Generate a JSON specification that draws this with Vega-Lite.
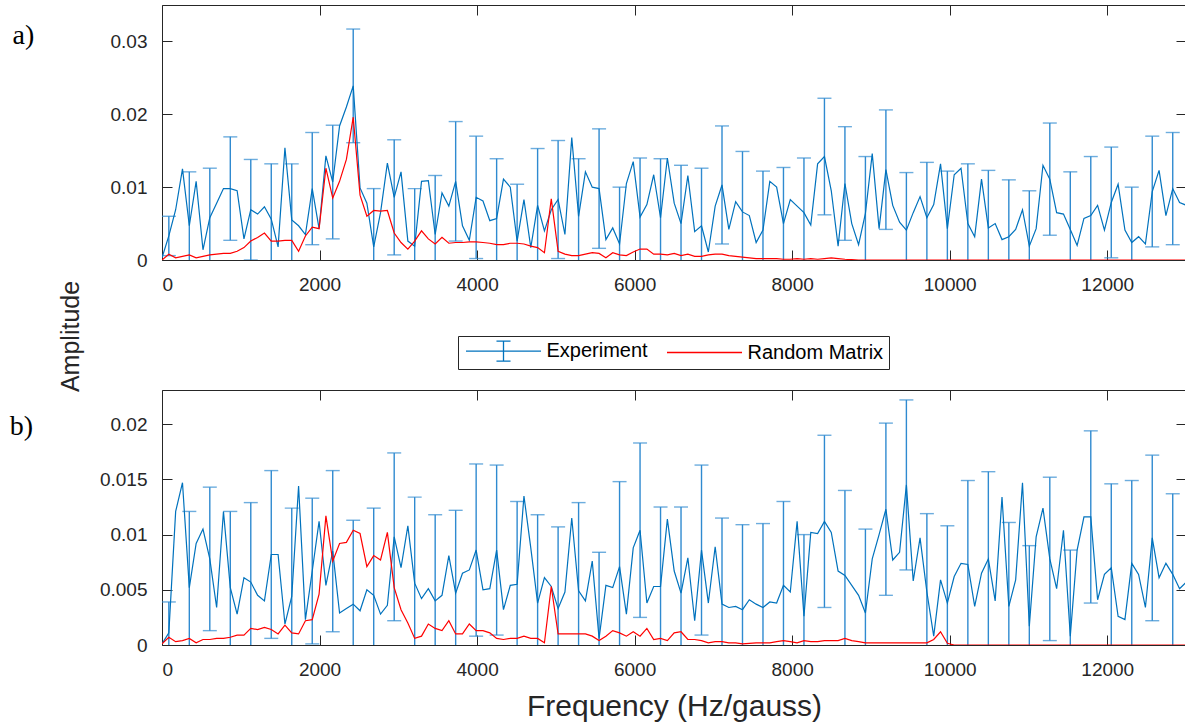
{
"$schema": "https://vega.github.io/schema/vega-lite/v6.json",
"padding": {"left": 9, "top": 4, "right": 0, "bottom": 0},
"background": "white",
"spacing": 130,
"bounds": "flush",
"resolve": {"scale": {"color": "shared"}},
"config": {
  "font": "Liberation Sans",
  "view": {"stroke": "#262626", "strokeWidth": 1},
  "axis": {"domain": false, "grid": false, "ticks": true, "tickColor": "#262626", "tickWidth": 1, "tickSize": -10, "labelFont": "Liberation Sans", "labelFontSize": 19, "labelColor": "#262626", "titleFont": "Liberation Sans", "titleFontWeight": "normal", "titleColor": "#262626"},
  "axisX": {"labelPadding": 25},
  "axisY": {"labelPadding": 25},
  "legend": {"labelFont": "Liberation Sans", "labelFontSize": 20, "labelColor": "black"}
},
"datasets": {
"a": [
{"f":0,"Experiment":0.0003,"Random Matrix":0},
{"f":86.7,"Experiment":0.0033,"Random Matrix":0.0008,"err":0.0027},
{"f":173.4,"Experiment":0.0069,"Random Matrix":0.0003},
{"f":260.1,"Experiment":0.0125,"Random Matrix":0.0005},
{"f":346.8,"Experiment":0.0047,"Random Matrix":0.0007,"err":0.0074},
{"f":433.5,"Experiment":0.0108,"Random Matrix":0.0003},
{"f":520.2,"Experiment":0.0014,"Random Matrix":0.0005},
{"f":606.9,"Experiment":0.0058,"Random Matrix":0.0007,"err":0.0068},
{"f":693.6,"Experiment":0.0078,"Random Matrix":0.0008},
{"f":780.3,"Experiment":0.0098,"Random Matrix":0.0009},
{"f":867,"Experiment":0.0098,"Random Matrix":0.0009,"err":0.0071},
{"f":953.7,"Experiment":0.0095,"Random Matrix":0.0012},
{"f":1040.4,"Experiment":0.0029,"Random Matrix":0.0017},
{"f":1127.1,"Experiment":0.0069,"Random Matrix":0.0026,"err":0.0069},
{"f":1213.8,"Experiment":0.0063,"Random Matrix":0.0031},
{"f":1300.5,"Experiment":0.0073,"Random Matrix":0.0037},
{"f":1387.2,"Experiment":0.0056,"Random Matrix":0.0026,"err":0.0076},
{"f":1473.9,"Experiment":0.0018,"Random Matrix":0.0026},
{"f":1560.6,"Experiment":0.0154,"Random Matrix":0.0027},
{"f":1647.3,"Experiment":0.0055,"Random Matrix":0.0027,"err":0.0077},
{"f":1734,"Experiment":0.0047,"Random Matrix":0.0012},
{"f":1820.7,"Experiment":0.0035,"Random Matrix":0.0033},
{"f":1907.4,"Experiment":0.0098,"Random Matrix":0.0045,"err":0.0077},
{"f":1994.1,"Experiment":0.0043,"Random Matrix":0.0043},
{"f":2080.8,"Experiment":0.0143,"Random Matrix":0.0126},
{"f":2167.5,"Experiment":0.0107,"Random Matrix":0.0085,"err":0.0078},
{"f":2254.2,"Experiment":0.0184,"Random Matrix":0.0108},
{"f":2340.9,"Experiment":0.021,"Random Matrix":0.0138},
{"f":2427.6,"Experiment":0.0239,"Random Matrix":0.0196,"err":0.0078},
{"f":2514.3,"Experiment":0.0099,"Random Matrix":0.0089},
{"f":2601,"Experiment":0.0078,"Random Matrix":0.006},
{"f":2687.7,"Experiment":0.0018,"Random Matrix":0.0068,"err":0.008},
{"f":2774.4,"Experiment":0.0065,"Random Matrix":0.0067},
{"f":2861.1,"Experiment":0.0133,"Random Matrix":0.0068},
{"f":2947.8,"Experiment":0.0086,"Random Matrix":0.0037,"err":0.0079},
{"f":3034.5,"Experiment":0.0121,"Random Matrix":0.0024},
{"f":3121.2,"Experiment":0.0026,"Random Matrix":0.0015},
{"f":3207.9,"Experiment":0.0019,"Random Matrix":0.0026,"err":0.0079},
{"f":3294.6,"Experiment":0.0108,"Random Matrix":0.004},
{"f":3381.3,"Experiment":0.0109,"Random Matrix":0.0029},
{"f":3468,"Experiment":0.0035,"Random Matrix":0.0022,"err":0.0081},
{"f":3554.7,"Experiment":0.0092,"Random Matrix":0.0031},
{"f":3641.4,"Experiment":0.0074,"Random Matrix":0.0023},
{"f":3728.1,"Experiment":0.0108,"Random Matrix":0.0024,"err":0.0082},
{"f":3814.8,"Experiment":0.0047,"Random Matrix":0.0024},
{"f":3901.5,"Experiment":0.0027,"Random Matrix":0.0025},
{"f":3988.2,"Experiment":0.0086,"Random Matrix":0.0025,"err":0.0084},
{"f":4074.9,"Experiment":0.0081,"Random Matrix":0.0024},
{"f":4161.6,"Experiment":0.0054,"Random Matrix":0.0023},
{"f":4248.3,"Experiment":0.0057,"Random Matrix":0.0021,"err":0.0082},
{"f":4335,"Experiment":0.0111,"Random Matrix":0.0021},
{"f":4421.7,"Experiment":0.01,"Random Matrix":0.0023},
{"f":4508.4,"Experiment":0.0026,"Random Matrix":0.0023,"err":0.0078},
{"f":4595.1,"Experiment":0.0083,"Random Matrix":0.0022},
{"f":4681.8,"Experiment":0.0017,"Random Matrix":0.0019},
{"f":4768.5,"Experiment":0.0075,"Random Matrix":0.0017,"err":0.0078},
{"f":4855.2,"Experiment":0.004,"Random Matrix":0.001},
{"f":4941.9,"Experiment":0.0069,"Random Matrix":0.0084},
{"f":5028.6,"Experiment":0.0083,"Random Matrix":0.0012,"err":0.0081},
{"f":5115.3,"Experiment":0.0035,"Random Matrix":0.0008},
{"f":5202,"Experiment":0.0168,"Random Matrix":0.0006},
{"f":5288.7,"Experiment":0.006,"Random Matrix":0.0006,"err":0.0079},
{"f":5375.4,"Experiment":0.0121,"Random Matrix":0.0008},
{"f":5462.1,"Experiment":0.01,"Random Matrix":0.001},
{"f":5548.8,"Experiment":0.0098,"Random Matrix":0.0009,"err":0.0082},
{"f":5635.5,"Experiment":0.0028,"Random Matrix":0.0003},
{"f":5722.2,"Experiment":0.0044,"Random Matrix":0.001},
{"f":5808.9,"Experiment":0.0022,"Random Matrix":0.0007,"err":0.0078},
{"f":5895.6,"Experiment":0.0105,"Random Matrix":0.0006},
{"f":5982.3,"Experiment":0.0135,"Random Matrix":0.0011},
{"f":6069,"Experiment":0.0059,"Random Matrix":0.0015,"err":0.0081},
{"f":6155.7,"Experiment":0.0076,"Random Matrix":0.0015},
{"f":6242.4,"Experiment":0.0117,"Random Matrix":0.0008},
{"f":6329.1,"Experiment":0.0058,"Random Matrix":0.0008,"err":0.0081},
{"f":6415.8,"Experiment":0.014,"Random Matrix":0.0007},
{"f":6502.5,"Experiment":0.0078,"Random Matrix":0.0009},
{"f":6589.2,"Experiment":0.005,"Random Matrix":0.0006,"err":0.008},
{"f":6675.9,"Experiment":0.0116,"Random Matrix":0.0008},
{"f":6762.6,"Experiment":0.0039,"Random Matrix":0.0005},
{"f":6849.3,"Experiment":0.0047,"Random Matrix":0.0005,"err":0.0079},
{"f":6936,"Experiment":0.0011,"Random Matrix":0.0007},
{"f":7022.7,"Experiment":0.0074,"Random Matrix":0.0008},
{"f":7109.4,"Experiment":0.0103,"Random Matrix":0.0008,"err":0.0081},
{"f":7196.1,"Experiment":0.0042,"Random Matrix":0.0006},
{"f":7282.8,"Experiment":0.008,"Random Matrix":0.0005},
{"f":7369.5,"Experiment":0.0066,"Random Matrix":0.0004,"err":0.0083},
{"f":7456.2,"Experiment":0.0061,"Random Matrix":0.0003},
{"f":7542.9,"Experiment":0.0024,"Random Matrix":0.0002},
{"f":7629.6,"Experiment":0.0041,"Random Matrix":0.0002,"err":0.0081},
{"f":7716.3,"Experiment":0.0108,"Random Matrix":0.0002},
{"f":7803,"Experiment":0.01,"Random Matrix":0.0002},
{"f":7889.7,"Experiment":0.005,"Random Matrix":0.0001,"err":0.0077},
{"f":7976.4,"Experiment":0.0083,"Random Matrix":0.0001},
{"f":8063.1,"Experiment":0.0074,"Random Matrix":0.0002},
{"f":8149.8,"Experiment":0.0065,"Random Matrix":0.0001,"err":0.0075},
{"f":8236.5,"Experiment":0.0048,"Random Matrix":0.0002},
{"f":8323.2,"Experiment":0.0132,"Random Matrix":0.0001},
{"f":8409.9,"Experiment":0.0142,"Random Matrix":0.0002,"err":0.008},
{"f":8496.6,"Experiment":0.0095,"Random Matrix":0.0003},
{"f":8583.3,"Experiment":0.0019,"Random Matrix":0.0002},
{"f":8670,"Experiment":0.0105,"Random Matrix":0.0001,"err":0.0078},
{"f":8756.7,"Experiment":0.005,"Random Matrix":0.00005},
{"f":8843.4,"Experiment":0.0021,"Random Matrix":0},
{"f":8930.1,"Experiment":0.0064,"Random Matrix":0,"err":0.0078},
{"f":9016.8,"Experiment":0.0146,"Random Matrix":0},
{"f":9103.5,"Experiment":0.0043,"Random Matrix":0},
{"f":9190.2,"Experiment":0.0124,"Random Matrix":0,"err":0.0082},
{"f":9276.9,"Experiment":0.0075,"Random Matrix":0},
{"f":9363.6,"Experiment":0.0052,"Random Matrix":0},
{"f":9450.3,"Experiment":0.0041,"Random Matrix":0,"err":0.0079},
{"f":9537,"Experiment":0.0065,"Random Matrix":0},
{"f":9623.7,"Experiment":0.0087,"Random Matrix":0},
{"f":9710.4,"Experiment":0.0058,"Random Matrix":0,"err":0.0076},
{"f":9797.1,"Experiment":0.0076,"Random Matrix":0},
{"f":9883.8,"Experiment":0.0132,"Random Matrix":0},
{"f":9970.5,"Experiment":0.0043,"Random Matrix":0,"err":0.0079},
{"f":10057.2,"Experiment":0.0117,"Random Matrix":0},
{"f":10143.9,"Experiment":0.0126,"Random Matrix":0},
{"f":10230.6,"Experiment":0.005,"Random Matrix":0,"err":0.0082},
{"f":10317.3,"Experiment":0.0032,"Random Matrix":0},
{"f":10404,"Experiment":0.0111,"Random Matrix":0},
{"f":10490.7,"Experiment":0.0044,"Random Matrix":0,"err":0.0079},
{"f":10577.4,"Experiment":0.005,"Random Matrix":0},
{"f":10664.1,"Experiment":0.0028,"Random Matrix":0},
{"f":10750.8,"Experiment":0.0032,"Random Matrix":0,"err":0.0078},
{"f":10837.5,"Experiment":0.0042,"Random Matrix":0},
{"f":10924.2,"Experiment":0.0069,"Random Matrix":0},
{"f":11010.9,"Experiment":0.0019,"Random Matrix":0,"err":0.0076},
{"f":11097.6,"Experiment":0.0043,"Random Matrix":0},
{"f":11184.3,"Experiment":0.013,"Random Matrix":0},
{"f":11271,"Experiment":0.0111,"Random Matrix":0,"err":0.0077},
{"f":11357.7,"Experiment":0.0065,"Random Matrix":0},
{"f":11444.4,"Experiment":0.0063,"Random Matrix":0},
{"f":11531.1,"Experiment":0.0042,"Random Matrix":0,"err":0.0079},
{"f":11617.8,"Experiment":0.002,"Random Matrix":0},
{"f":11704.5,"Experiment":0.0057,"Random Matrix":0},
{"f":11791.2,"Experiment":0.0061,"Random Matrix":0,"err":0.0081},
{"f":11877.9,"Experiment":0.0075,"Random Matrix":0},
{"f":11964.6,"Experiment":0.0041,"Random Matrix":0},
{"f":12051.3,"Experiment":0.0079,"Random Matrix":0,"err":0.0076},
{"f":12138,"Experiment":0.0104,"Random Matrix":0},
{"f":12224.7,"Experiment":0.0041,"Random Matrix":0},
{"f":12311.4,"Experiment":0.0024,"Random Matrix":0,"err":0.0076},
{"f":12398.1,"Experiment":0.0032,"Random Matrix":0},
{"f":12484.8,"Experiment":0.0022,"Random Matrix":0},
{"f":12571.5,"Experiment":0.0094,"Random Matrix":0,"err":0.0076},
{"f":12658.2,"Experiment":0.0123,"Random Matrix":0},
{"f":12744.9,"Experiment":0.0061,"Random Matrix":0},
{"f":12831.6,"Experiment":0.0098,"Random Matrix":0,"err":0.0077},
{"f":12918.3,"Experiment":0.0079,"Random Matrix":0},
{"f":13005,"Experiment":0.0075,"Random Matrix":0}
],
"b": [
{"f":0,"Experiment":0.0001,"Random Matrix":0.0001},
{"f":86.7,"Experiment":0.0011,"Random Matrix":0.0007,"err":0.0028},
{"f":173.4,"Experiment":0.0121,"Random Matrix":0.0003},
{"f":260.1,"Experiment":0.0147,"Random Matrix":0.0004},
{"f":346.8,"Experiment":0.0052,"Random Matrix":0.0006,"err":0.0069},
{"f":433.5,"Experiment":0.0092,"Random Matrix":0.0002},
{"f":520.2,"Experiment":0.0105,"Random Matrix":0.0005},
{"f":606.9,"Experiment":0.0078,"Random Matrix":0.0005,"err":0.0065},
{"f":693.6,"Experiment":0.0034,"Random Matrix":0.0006},
{"f":780.3,"Experiment":0.0121,"Random Matrix":0.0006},
{"f":867,"Experiment":0.0052,"Random Matrix":0.0007,"err":0.0069},
{"f":953.7,"Experiment":0.0028,"Random Matrix":0.0009},
{"f":1040.4,"Experiment":0.0061,"Random Matrix":0.0009},
{"f":1127.1,"Experiment":0.0057,"Random Matrix":0.0015,"err":0.0072},
{"f":1213.8,"Experiment":0.0045,"Random Matrix":0.0014},
{"f":1300.5,"Experiment":0.004,"Random Matrix":0.0016},
{"f":1387.2,"Experiment":0.0082,"Random Matrix":0.0014,"err":0.0076},
{"f":1473.9,"Experiment":0.0082,"Random Matrix":0.001},
{"f":1560.6,"Experiment":0.0019,"Random Matrix":0.0018},
{"f":1647.3,"Experiment":0.0044,"Random Matrix":0.0011,"err":0.008},
{"f":1734,"Experiment":0.0144,"Random Matrix":0.001},
{"f":1820.7,"Experiment":0.0023,"Random Matrix":0.0022},
{"f":1907.4,"Experiment":0.0067,"Random Matrix":0.0023,"err":0.0066},
{"f":1994.1,"Experiment":0.0112,"Random Matrix":0.0046},
{"f":2080.8,"Experiment":0.0054,"Random Matrix":0.0117},
{"f":2167.5,"Experiment":0.0085,"Random Matrix":0.0076,"err":0.0073},
{"f":2254.2,"Experiment":0.0029,"Random Matrix":0.0092},
{"f":2340.9,"Experiment":0.0033,"Random Matrix":0.0093},
{"f":2427.6,"Experiment":0.0037,"Random Matrix":0.0104,"err":0.0076},
{"f":2514.3,"Experiment":0.0031,"Random Matrix":0.0101},
{"f":2601,"Experiment":0.005,"Random Matrix":0.0071},
{"f":2687.7,"Experiment":0.0045,"Random Matrix":0.0081,"err":0.0079},
{"f":2774.4,"Experiment":0.0028,"Random Matrix":0.0077},
{"f":2861.1,"Experiment":0.0036,"Random Matrix":0.0102},
{"f":2947.8,"Experiment":0.0098,"Random Matrix":0.0052,"err":0.0076},
{"f":3034.5,"Experiment":0.007,"Random Matrix":0.0032},
{"f":3121.2,"Experiment":0.0108,"Random Matrix":0.002},
{"f":3207.9,"Experiment":0.0056,"Random Matrix":0.0006,"err":0.0078},
{"f":3294.6,"Experiment":0.0042,"Random Matrix":0.0008},
{"f":3381.3,"Experiment":0.0051,"Random Matrix":0.0019},
{"f":3468,"Experiment":0.004,"Random Matrix":0.0015,"err":0.0078},
{"f":3554.7,"Experiment":0.0045,"Random Matrix":0.0013},
{"f":3641.4,"Experiment":0.0081,"Random Matrix":0.0022},
{"f":3728.1,"Experiment":0.0047,"Random Matrix":0.001,"err":0.0075},
{"f":3814.8,"Experiment":0.0065,"Random Matrix":0.001},
{"f":3901.5,"Experiment":0.0068,"Random Matrix":0.0019},
{"f":3988.2,"Experiment":0.0086,"Random Matrix":0.0013,"err":0.0078},
{"f":4074.9,"Experiment":0.005,"Random Matrix":0.0013},
{"f":4161.6,"Experiment":0.0051,"Random Matrix":0.0011},
{"f":4248.3,"Experiment":0.0086,"Random Matrix":0.0006,"err":0.0077},
{"f":4335,"Experiment":0.0032,"Random Matrix":0.0005},
{"f":4421.7,"Experiment":0.0054,"Random Matrix":0.0006},
{"f":4508.4,"Experiment":0.0055,"Random Matrix":0.0006,"err":0.0075},
{"f":4595.1,"Experiment":0.0135,"Random Matrix":0.0008},
{"f":4681.8,"Experiment":0.0088,"Random Matrix":0.0006},
{"f":4768.5,"Experiment":0.0038,"Random Matrix":0.0006,"err":0.008},
{"f":4855.2,"Experiment":0.0061,"Random Matrix":0.0002},
{"f":4941.9,"Experiment":0.0053,"Random Matrix":0.0053},
{"f":5028.6,"Experiment":0.0033,"Random Matrix":0.001,"err":0.0074},
{"f":5115.3,"Experiment":0.0048,"Random Matrix":0.001},
{"f":5202,"Experiment":0.0115,"Random Matrix":0.001},
{"f":5288.7,"Experiment":0.0049,"Random Matrix":0.001,"err":0.008},
{"f":5375.4,"Experiment":0.004,"Random Matrix":0.001},
{"f":5462.1,"Experiment":0.0076,"Random Matrix":0.0008},
{"f":5548.8,"Experiment":0.0006,"Random Matrix":0.0004,"err":0.0078},
{"f":5635.5,"Experiment":0.0054,"Random Matrix":0.0008},
{"f":5722.2,"Experiment":0.0052,"Random Matrix":0.0013},
{"f":5808.9,"Experiment":0.0071,"Random Matrix":0.0011,"err":0.0077},
{"f":5895.6,"Experiment":0.0028,"Random Matrix":0.0008},
{"f":5982.3,"Experiment":0.0088,"Random Matrix":0.0012},
{"f":6069,"Experiment":0.0104,"Random Matrix":0.0008,"err":0.0079},
{"f":6155.7,"Experiment":0.0038,"Random Matrix":0.0015},
{"f":6242.4,"Experiment":0.0053,"Random Matrix":0.0005},
{"f":6329.1,"Experiment":0.0053,"Random Matrix":0.0006,"err":0.0072},
{"f":6415.8,"Experiment":0.0114,"Random Matrix":0.0004},
{"f":6502.5,"Experiment":0.0067,"Random Matrix":0.0011},
{"f":6589.2,"Experiment":0.0047,"Random Matrix":0.0012,"err":0.0078},
{"f":6675.9,"Experiment":0.0079,"Random Matrix":0.0005},
{"f":6762.6,"Experiment":0.0022,"Random Matrix":0.0005},
{"f":6849.3,"Experiment":0.0086,"Random Matrix":0.0004,"err":0.0077},
{"f":6936,"Experiment":0.0038,"Random Matrix":0.0002},
{"f":7022.7,"Experiment":0.0089,"Random Matrix":0.0003},
{"f":7109.4,"Experiment":0.0037,"Random Matrix":0.0003,"err":0.0078},
{"f":7196.1,"Experiment":0.0034,"Random Matrix":0.0002},
{"f":7282.8,"Experiment":0.0035,"Random Matrix":0.0002},
{"f":7369.5,"Experiment":0.0032,"Random Matrix":0.0001,"err":0.0077},
{"f":7456.2,"Experiment":0.0041,"Random Matrix":0.00015},
{"f":7542.9,"Experiment":0.0037,"Random Matrix":0.0002},
{"f":7629.6,"Experiment":0.0034,"Random Matrix":0.0002,"err":0.0076},
{"f":7716.3,"Experiment":0.0039,"Random Matrix":0.0002},
{"f":7803,"Experiment":0.0038,"Random Matrix":0.0003},
{"f":7889.7,"Experiment":0.0054,"Random Matrix":0.0004,"err":0.0076},
{"f":7976.4,"Experiment":0.0048,"Random Matrix":0.0003},
{"f":8063.1,"Experiment":0.0112,"Random Matrix":0.0002},
{"f":8149.8,"Experiment":0.0026,"Random Matrix":0.0004,"err":0.0074},
{"f":8236.5,"Experiment":0.0102,"Random Matrix":0.0003},
{"f":8323.2,"Experiment":0.0101,"Random Matrix":0.0003},
{"f":8409.9,"Experiment":0.0112,"Random Matrix":0.0004,"err":0.0078},
{"f":8496.6,"Experiment":0.0102,"Random Matrix":0.0004},
{"f":8583.3,"Experiment":0.0067,"Random Matrix":0.0004},
{"f":8670,"Experiment":0.0063,"Random Matrix":0.0006,"err":0.0077},
{"f":8756.7,"Experiment":0.0054,"Random Matrix":0.0004},
{"f":8843.4,"Experiment":0.0045,"Random Matrix":0.0003},
{"f":8930.1,"Experiment":0.0029,"Random Matrix":0.0002,"err":0.0076},
{"f":9016.8,"Experiment":0.0078,"Random Matrix":0.0002},
{"f":9103.5,"Experiment":0.01,"Random Matrix":0.0002},
{"f":9190.2,"Experiment":0.0123,"Random Matrix":0.0002,"err":0.0078},
{"f":9276.9,"Experiment":0.0077,"Random Matrix":0.0002},
{"f":9363.6,"Experiment":0.0084,"Random Matrix":0.0002},
{"f":9450.3,"Experiment":0.0145,"Random Matrix":0.0002,"err":0.0077},
{"f":9537,"Experiment":0.0058,"Random Matrix":0.0002},
{"f":9623.7,"Experiment":0.0097,"Random Matrix":0.0002},
{"f":9710.4,"Experiment":0.0048,"Random Matrix":0.0002,"err":0.0071},
{"f":9797.1,"Experiment":0.0008,"Random Matrix":0.0005},
{"f":9883.8,"Experiment":0.0059,"Random Matrix":0.0012},
{"f":9970.5,"Experiment":0.0038,"Random Matrix":0.00015,"err":0.007},
{"f":10057.2,"Experiment":0.0062,"Random Matrix":0},
{"f":10143.9,"Experiment":0.0074,"Random Matrix":0},
{"f":10230.6,"Experiment":0.0073,"Random Matrix":0,"err":0.0076},
{"f":10317.3,"Experiment":0.0035,"Random Matrix":0},
{"f":10404,"Experiment":0.0065,"Random Matrix":0},
{"f":10490.7,"Experiment":0.0078,"Random Matrix":0,"err":0.0079},
{"f":10577.4,"Experiment":0.004,"Random Matrix":0},
{"f":10664.1,"Experiment":0.0134,"Random Matrix":0},
{"f":10750.8,"Experiment":0.0035,"Random Matrix":0,"err":0.0076},
{"f":10837.5,"Experiment":0.0059,"Random Matrix":0},
{"f":10924.2,"Experiment":0.0147,"Random Matrix":0},
{"f":11010.9,"Experiment":0.0017,"Random Matrix":0,"err":0.0073},
{"f":11097.6,"Experiment":0.0098,"Random Matrix":0},
{"f":11184.3,"Experiment":0.0124,"Random Matrix":0},
{"f":11271,"Experiment":0.0078,"Random Matrix":0,"err":0.0074},
{"f":11357.7,"Experiment":0.0051,"Random Matrix":0},
{"f":11444.4,"Experiment":0.0104,"Random Matrix":0},
{"f":11531.1,"Experiment":0.0008,"Random Matrix":0,"err":0.0078},
{"f":11617.8,"Experiment":0.0086,"Random Matrix":0},
{"f":11704.5,"Experiment":0.0116,"Random Matrix":0},
{"f":11791.2,"Experiment":0.0116,"Random Matrix":0,"err":0.0078},
{"f":11877.9,"Experiment":0.0041,"Random Matrix":0},
{"f":11964.6,"Experiment":0.0064,"Random Matrix":0},
{"f":12051.3,"Experiment":0.007,"Random Matrix":0,"err":0.0076},
{"f":12138,"Experiment":0.0026,"Random Matrix":0},
{"f":12224.7,"Experiment":0.0023,"Random Matrix":0},
{"f":12311.4,"Experiment":0.0074,"Random Matrix":0,"err":0.0075},
{"f":12398.1,"Experiment":0.0064,"Random Matrix":0},
{"f":12484.8,"Experiment":0.0034,"Random Matrix":0},
{"f":12571.5,"Experiment":0.0097,"Random Matrix":0,"err":0.0075},
{"f":12658.2,"Experiment":0.0061,"Random Matrix":0},
{"f":12744.9,"Experiment":0.0074,"Random Matrix":0},
{"f":12831.6,"Experiment":0.0064,"Random Matrix":0,"err":0.0073},
{"f":12918.3,"Experiment":0.0051,"Random Matrix":0},
{"f":13005,"Experiment":0.0057,"Random Matrix":0}
]
},
"vconcat": [
{
  "width": 1024, "height": 255,
  "title": {"text": "a)", "orient": "left", "anchor": "end", "frame": "group", "angle": 0, "align": "right", "baseline": "top", "offset": 2, "dy": 17, "font": "Liberation Serif", "fontSize": 28, "fontWeight": "normal", "color": "black"},
  "data": {"name": "a"},
  "layer": [
    {"transform": [{"filter": "isValid(datum.err)"}],
     "mark": {"type": "errorbar", "color": "#2F8AD0", "thickness": 1.4, "ticks": {"size": 14}, "clip": true},
     "encoding": {
       "x": {"field": "f", "type": "quantitative", "scale": {"domain": [0, 13000], "nice": false}, "axis": {"orient": "bottom", "values": [0,2000,4000,6000,8000,10000,12000], "format": "d", "title": null}},
       "y": {"field": "Experiment", "type": "quantitative", "scale": {"domain": [0, 0.035], "nice": false}, "axis": {"orient": "left", "values": [0, 0.01, 0.02, 0.03], "format": "~g", "title": "Amplitude", "titleFontSize": 25, "titleAngle": -90, "titleX": -92, "titleY": 331, "titleAlign": "center", "titleBaseline": "middle"}},
       "yError": {"field": "err"}}},
    {"transform": [{"fold": ["Experiment", "Random Matrix"], "as": ["series", "amp"]}],
     "mark": {"type": "line", "strokeWidth": 1.2, "clip": true},
     "encoding": {
       "x": {"field": "f", "type": "quantitative", "scale": {"domain": [0, 13000], "nice": false}, "axis": {"orient": "top", "values": [0,2000,4000,6000,8000,10000,12000], "labels": false, "title": null}},
       "y": {"field": "amp", "type": "quantitative", "scale": {"domain": [0, 0.035], "nice": false}, "axis": {"orient": "right", "values": [0, 0.01, 0.02, 0.03], "labels": false, "title": null}},
       "color": {"field": "series", "type": "nominal", "scale": {"domain": ["Experiment", "Random Matrix"], "range": ["#0072BD", "#FF0000"]},
         "legend": {"orient": "none", "legendX": 296, "legendY": 331, "direction": "horizontal", "title": null, "symbolSize": 324, "symbolStrokeWidth": 1.3, "symbolType": "M-4.167,0H4.167", "symbolOffset": 30.5, "labelOffset": 33, "columnPadding": 16, "padding": 5, "strokeColor": "#262626", "fillColor": "white",
           "encode": {"symbols": {"update": {"shape": {"signal": "datum.value === 'Experiment' ? 'M-4.167,0H4.167M0,-1.11V1.11M-0.78,-1.11H0.78M-0.78,1.11H0.78' : 'M-4.167,0H4.167'"}}}}}}}}
  ]
},
{
  "width": 1024, "height": 255,
  "title": {"text": "b)", "orient": "left", "anchor": "end", "frame": "group", "angle": 0, "align": "right", "baseline": "top", "offset": 43, "dy": 23, "font": "Liberation Serif", "fontSize": 28, "fontWeight": "normal", "color": "black"},
  "data": {"name": "b"},
  "layer": [
    {"transform": [{"filter": "isValid(datum.err)"}],
     "mark": {"type": "errorbar", "color": "#2F8AD0", "thickness": 1.4, "ticks": {"size": 14}, "clip": true},
     "encoding": {
       "x": {"field": "f", "type": "quantitative", "scale": {"domain": [0, 13000], "nice": false}, "axis": {"orient": "bottom", "values": [0,2000,4000,6000,8000,10000,12000], "format": "d", "title": "Frequency (Hz/gauss)", "titleFontSize": 30, "titlePadding": 12}},
       "y": {"field": "Experiment", "type": "quantitative", "scale": {"domain": [0, 0.0231], "nice": false}, "axis": {"orient": "left", "values": [0, 0.005, 0.01, 0.015, 0.02], "format": "~g", "title": null}},
       "yError": {"field": "err"}}},
    {"transform": [{"fold": ["Experiment", "Random Matrix"], "as": ["series", "amp"]}],
     "mark": {"type": "line", "strokeWidth": 1.2, "clip": true},
     "encoding": {
       "x": {"field": "f", "type": "quantitative", "scale": {"domain": [0, 13000], "nice": false}, "axis": {"orient": "top", "values": [0,2000,4000,6000,8000,10000,12000], "labels": false, "title": null}},
       "y": {"field": "amp", "type": "quantitative", "scale": {"domain": [0, 0.0231], "nice": false}, "axis": {"orient": "right", "values": [0, 0.005, 0.01, 0.015, 0.02], "labels": false, "title": null}},
       "color": {"field": "series", "type": "nominal", "legend": null}}}
  ]
}
]
}
